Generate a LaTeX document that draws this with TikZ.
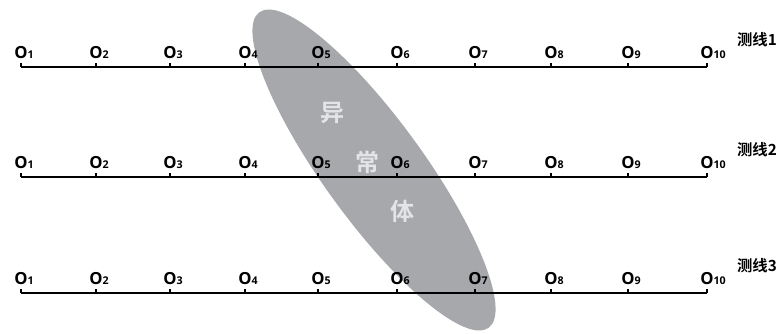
\documentclass[tikz,border=0pt]{standalone}
\usepackage{fontspec}
\setmainfont{Open Sans}
\newfontfamily\cjk{Noto Sans CJK SC Bold}

\definecolor{anomaly}{RGB}{167,168,172}
\definecolor{anomalytext}{RGB}{228,228,230}

\tikzset{every picture/.style={line width=0.75pt}}
\tikzset{
  surveyline/.style={line width=1.9pt},
  stationtick/.style={line width=0.8pt},
  station/.style={anchor=base, inner sep=0pt, font=\bfseries\fontsize{12.5}{13}\selectfont},
  linename/.style={inner sep=0pt, font=\cjk\fontsize{11.5}{12}\selectfont},
  anomalylabel/.style={inner sep=0pt, text=anomalytext, font=\cjk\fontsize{18}{19}\selectfont}
}

\begin{document}
\begin{tikzpicture}[x=0.75pt,y=0.75pt,yscale=-1,xscale=1]
\useasboundingbox (0,0) rectangle (778,333);

% anomaly body
\fill [anomaly, rotate around={54:(374,170)}] (374,170) ellipse (195 and 50);
\node [anomalylabel] (ano1) at (332,113) {异};
\node [anomalylabel] (ano2) at (367,162) {常};
\node [anomalylabel] (ano3) at (402,211) {体};

% survey lines with stations
\foreach \row/\y in {1/67,2/177,3/293} {
  \foreach \i/\x in {1/21,2/96,3/170,4/245,5/318,6/397,7/475,8/551,9/628,10/707} {
    \coordinate (l\row p\i) at (\x,\y);
    \draw [stationtick] (l\row p\i) -- ++(0,-4);
    \node [station] (l\row o\i) at (\x,\y-9) {O\rlap{\fontsize{8}{9}\selectfont\i}};
  }
  \draw [surveyline] (l\row p1) -- (l\row p10);
  \node [linename] (name\row) at (757,\y-27) {测线\row};
}

\end{tikzpicture}
\end{document}
